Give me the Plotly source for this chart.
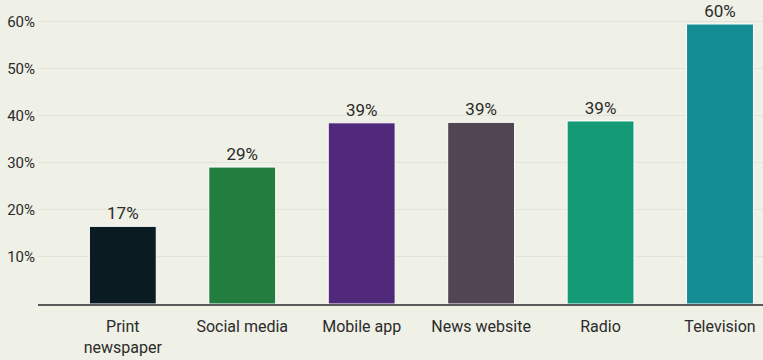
import plotly.graph_objects as go

# Share of respondents using each news source
categories = ["Print<br>newspaper", "Social media", "Mobile app", "News website", "Radio", "Television"]
shares = [16.5, 29.1, 38.5, 38.6, 38.9, 59.5]
bar_colors = ["#0b1b22", "#237d3f", "#51297b", "#514553", "#149a74", "#138c94"]
y_ticks = [10, 20, 30, 40, 50, 60]
y_tick_labels = [f"{v}%" for v in y_ticks]

BG = "#eff0e6"
TEXT = "#2b2b2b"
FONT = "Roboto"

fig = go.Figure(
    go.Bar(
        x=categories,
        y=shares,
        marker=dict(color=bar_colors, line=dict(color="white", width=1)),
        text=shares,
        texttemplate="%{y:.0f}%",
        textposition="outside",
        cliponaxis=False,
        textfont=dict(family=FONT, size=17, color=TEXT),
        hoverinfo="skip",
    )
)

fig.update_layout(
    width=763,
    height=360,
    margin=dict(l=38, r=0, t=0, b=56),
    paper_bgcolor=BG,
    plot_bgcolor=BG,
    bargap=0.44,
    showlegend=False,
    font=dict(family=FONT, size=16, color=TEXT),
    xaxis=dict(
        type="category",
        range=[-0.71, 5.36],
        showgrid=False,
        showline=True,
        linecolor="#5a5a5a",
        linewidth=2,
        ticks="",
        ticklabelstandoff=7,
        tickfont=dict(family=FONT, size=16, color=TEXT),
        fixedrange=True,
    ),
    yaxis=dict(
        range=[0, 64.6],
        tickvals=y_ticks,
        ticktext=y_tick_labels,
        showgrid=True,
        gridcolor="#e2e3da",
        gridwidth=1,
        zeroline=False,
        showline=False,
        ticks="",
        ticklabelstandoff=2,
        tickfont=dict(family=FONT, size=15, color=TEXT),
        fixedrange=True,
    ),
)

fig.write_html("out.html")
